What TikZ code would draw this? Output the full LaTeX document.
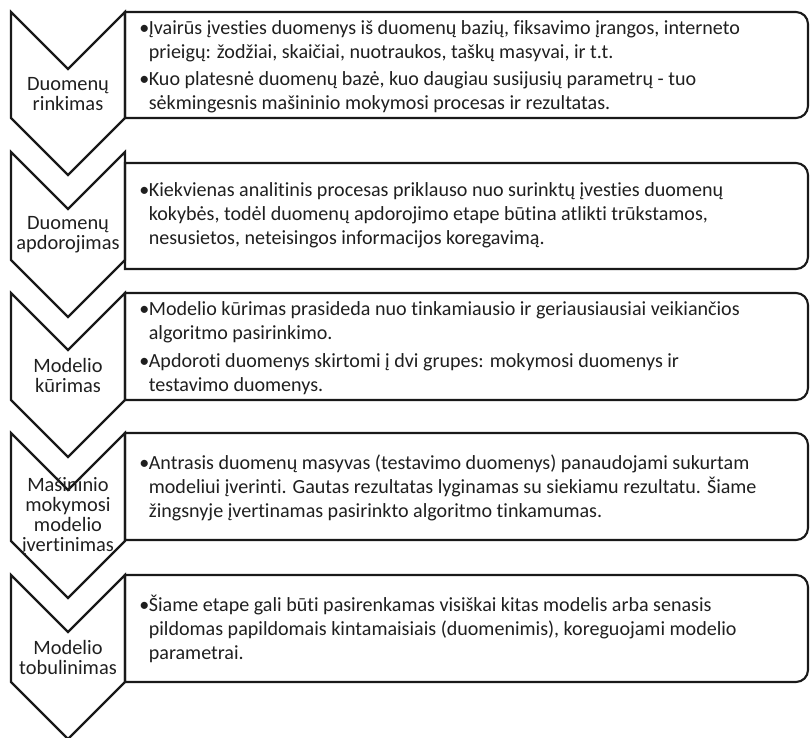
\documentclass[tikz,border=0pt]{standalone}
\usepackage{fontspec}
\setmainfont{Carlito}[Ligatures=NoCommon]
\begin{document}
\newcommand{\blt}{\makebox[7.2pt][l]{•}}
\newcommand{\ind}{\hspace*{7.2pt}}
\newcommand{\pgap}{\\[2.6pt]}
\begin{tikzpicture}[x=0.75pt,y=-0.75pt,
  shapeline/.style={draw=black!90,line width=1.6pt,line join=miter},
  steplabel/.style={align=center,inner sep=0pt,font=\fontsize{15.3pt}{15pt}\selectfont,text=black!88},
  bodytext/.style={align=left,anchor=west,inner sep=0pt,font=\fontsize{15.05pt}{18pt}\selectfont,text=black!88}]
\useasboundingbox (0,0) rectangle (810,738);

% chevron: #1 = top edge, #2 = lower corners
\newcommand{\chev}[2]{%
  \draw[shapeline] (11,#1) -- (68,#1+57) -- (125,#1) -- (125,#2) -- (68,#2+57) -- (11,#2) -- cycle;}
% text panel with rounded right corners: #1 = top, #2 = bottom
\newcommand{\panel}[2]{%
  \draw[shapeline] (125,#1) -- (796,#1) arc[start angle=-90,end angle=0,radius=12] -- (808,#2-12)
    arc[start angle=0,end angle=90,radius=12] -- (125,#2) -- cycle;}

\panel{12}{118}
\panel{163}{269}
\panel{293}{400}
\panel{433}{540}
\panel{575}{682}

\chev{12}{118}
\chev{152}{260}
\chev{293}{400}
\chev{433}{541}
\chev{575}{682}

\node[steplabel] (s1) at (68,94) {Duomenų\\rinkimas};
\node[steplabel] (s2) at (68,235) {Duomenų\\apdorojimas};
\node[steplabel] (s3) at (68,375) {Modelio\\kūrimas};
\node[steplabel] (s4) at (68,516) {Mašininio\\mokymosi\\modelio\\įvertinimas};
\node[steplabel] (s5) at (68,657) {Modelio\\tobulinimas};

\node[bodytext] (t1) at (139,66.5) {\blt Įvairūs įvesties duomenys iš duomenų bazių, fiksavimo įrangos, interneto\\
\ind prieigų: žodžiai, skaičiai, nuotraukos, taškų masyvai, ir t.t.\pgap
\blt Kuo platesnė duomenų bazė, kuo daugiau susijusių parametrų - tuo\\
\ind sėkmingesnis mašininio mokymosi procesas ir rezultatas.};

\node[bodytext] (t2) at (139,215) {\blt Kiekvienas analitinis procesas priklauso nuo surinktų įvesties duomenų\\
\ind kokybės, todėl duomenų apdorojimo etape būtina atlikti trūkstamos,\\
\ind nesusietos, neteisingos informacijos koregavimą.};

\node[bodytext] (t3) at (139,348) {\blt Modelio kūrimas prasideda nuo tinkamiausio ir geriausiausiai veikiančios\\
\ind algoritmo pasirinkimo.\pgap
\blt Apdoroti duomenys skirtomi į dvi grupes: mokymosi duomenys ir\\
\ind testavimo duomenys.};

\node[bodytext] (t4) at (139,488) {\blt Antrasis duomenų masyvas (testavimo duomenys) panaudojami sukurtam\\
\ind modeliui įverinti. Gautas rezultatas lyginamas su siekiamu rezultatu. Šiame\\
\ind žingsnyje įvertinamas pasirinkto algoritmo tinkamumas.};

\node[bodytext] (t5) at (139,629) {\blt Šiame etape gali būti pasirenkamas visiškai kitas modelis arba senasis\\
\ind pildomas papildomais kintamaisiais (duomenimis), koreguojami modelio\\
\ind parametrai.};
\end{tikzpicture}
\end{document}
